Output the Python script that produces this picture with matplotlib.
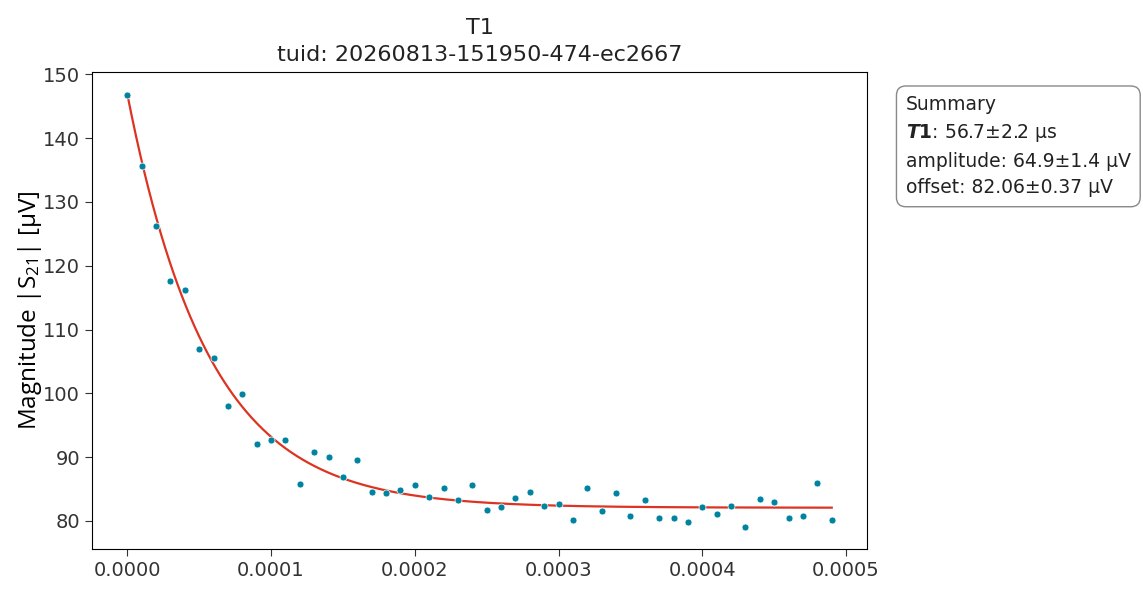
import numpy as np
import matplotlib
matplotlib.use("Agg")
import matplotlib.pyplot as plt

# measured points (time in s, magnitude in uV)
times = np.arange(50) * 1e-5
magnitude = [
    146.8, 135.6, 126.3, 117.6, 116.2, 107.0, 105.6, 98.0, 99.9, 92.1,
    92.7, 92.7, 85.85, 90.8, 90.0, 86.9, 89.6, 84.6, 84.4, 84.8,
    85.7, 83.8, 85.2, 83.2, 85.7, 81.7, 82.2, 83.6, 84.6, 82.4,
    82.6, 80.1, 85.2, 81.6, 84.4, 80.8, 83.2, 80.4, 80.4, 79.9,
    82.1, 81.0, 82.4, 79.0, 83.5, 83.0, 80.5, 80.7, 86.0, 80.2,
]

# fit result shown in the summary box
T1 = 56.7e-6
amplitude = 64.9
offset = 82.06

plt.rcParams["font.family"] = ["DejaVu Sans"]
plt.rcParams["mathtext.default"] = "regular"

fig = plt.figure(figsize=(11.43, 5.96), dpi=100)
ax = fig.add_axes([0.0805, 0.079, 0.678, 0.8])

t_fit = np.linspace(times[0], times[-1], 500)
ax.plot(t_fit, offset + amplitude * np.exp(-t_fit / T1), color="#dd3322", lw=1.6, zorder=2)
ax.plot(times, magnitude, "o", color="#00839f", ms=5, mec="white", mew=0.5, zorder=3)

ax.set_title("T1\ntuid: 20260813-151950-474-ec2667", fontsize=16, color="#222222",
             linespacing=1.45, pad=8)
ax.set_ylabel("Magnitude $|S_{21}|$ [μV]", fontsize=17.5, family="Open Sans")
ax.yaxis.set_label_coords(-0.062, 0.5)
ax.tick_params(labelsize=14, length=5, colors="#333333", labelcolor="#333333")
ax.set_yticks([80, 90, 100, 110, 120, 130, 140, 150])

summary = ("Summary\n"
           r"$\mathbfit{T}\mathbf{1}$: 56.7±2.2 μs" "\n"
           "amplitude: 64.9±1.4 μV\n"
           "offset: 82.06±0.37 μV")
fig.text(0.7925, 0.84, summary, fontsize=13.5, va="top", ha="left", linespacing=1.5,
         color="#222222",
         bbox=dict(boxstyle="round,pad=0.5", fc="white", ec="#888888", lw=1))

fig.savefig("out.png", dpi=100)
